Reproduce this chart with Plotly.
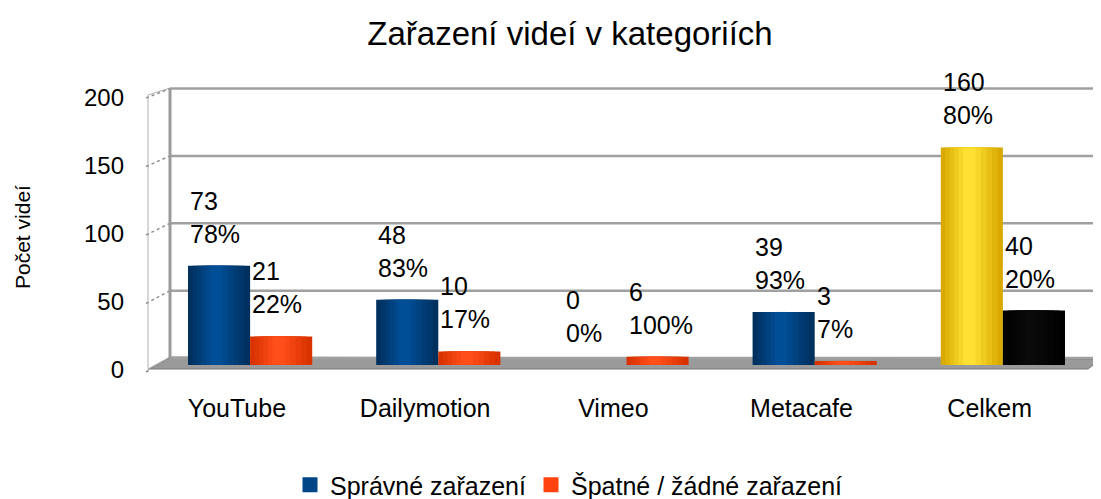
import plotly.graph_objects as go

categories = ["YouTube", "Dailymotion", "Vimeo", "Metacafe", "Celkem"]
correct = [73, 48, 0, 39, 160]
correct_pct = [78, 83, 0, 93, 80]
wrong = [21, 10, 6, 3, 40]
wrong_pct = [22, 17, 100, 7, 20]
y_ticks = [0, 50, 100, 150, 200]

series_names = ["Správné zařazení", "Špatné / žádné zařazení"]
BLUE, ORANGE, YELLOW, BLACK = "#004586", "#ff420e", "#ffd320", "#000000"
# (edge shade, centre shade) for cylinder look
SH = {BLUE: ("#00305e", "#004e96"), ORANGE: ("#d83200", "#ff4e1a"),
      YELLOW: ("#d8aa00", "#ffe033"), BLACK: ("#000000", "#0a0a0a")}
FONT = "Liberation Sans, Arial, sans-serif"

OFF = 8  # page body margin
W, H = 1101 - OFF, 499 - OFF
PL, PR, PT, PB = 156, 1097, 93, 365  # plot area in screenshot pixels


def px_x(p):
    return (p - PL) / (PR - PL)


def px_y(p):
    return (PB - p) / (PB - PT)


def mix(c1, c2, t):
    a = [int(c1[i:i + 2], 16) for i in (1, 3, 5)]
    b = [int(c2[i:i + 2], 16) for i in (1, 3, 5)]
    return "#" + "".join(f"{round(a[k] + (b[k] - a[k]) * t):02x}" for k in range(3))


xs = list(range(len(categories)))
BW = 0.33
N_LAYERS = 6

fig = go.Figure()
colors1 = [BLUE] * 4 + [YELLOW]
colors2 = [ORANGE] * 4 + [BLACK]

for vals, cols, left, name in [(correct, colors1, -BW, series_names[0]),
                               (wrong, colors2, 0.0, series_names[1])]:
    for k in range(N_LAYERS):
        t = k / (N_LAYERS - 1)
        frac = 1 - 0.8 * t  # layer width fraction
        centre = 0.45
        lo = centre - frac * centre
        fig.add_trace(go.Bar(x=xs, y=vals, name=name, width=BW * frac, offset=left + BW * lo,
                             marker=dict(color=[mix(SH[c][0], SH[c][1], t) for c in cols],
                                         line=dict(width=0)),
                             showlegend=False, hoverinfo="skip" if k else None))

# legend entries (square swatches)
fig.add_trace(go.Scatter(x=[None], y=[None], mode="markers", name=series_names[0],
                         marker=dict(color=BLUE, symbol="square", size=15)))
fig.add_trace(go.Scatter(x=[None], y=[None], mode="markers", name=series_names[1],
                         marker=dict(color=ORANGE, symbol="square", size=15)))

annotations = []
for i in xs:
    annotations.append(dict(x=i - BW, y=correct[i], xref="x", yref="y",
                            text=f"{correct[i]}<br>{correct_pct[i]}%", showarrow=False,
                            xanchor="left", yanchor="bottom", yshift=16, align="left",
                            font=dict(size=25, color="black", family=FONT)))
    annotations.append(dict(x=i, y=wrong[i], xref="x", yref="y",
                            text=f"{wrong[i]}<br>{wrong_pct[i]}%", showarrow=False,
                            xanchor="left", yanchor="bottom", yshift=16, align="left",
                            font=dict(size=25, color="black", family=FONT)))
annotations.append(dict(x=px_x(22), y=px_y(237), xref="paper", yref="paper", text="Počet videí",
                        textangle=-90, showarrow=False, xanchor="center", yanchor="middle",
                        font=dict(size=21, color="black", family=FONT)))

shapes = []
# floor
shapes.append(dict(type="path", xref="paper", yref="paper", layer="below",
                   path=f"M {px_x(148)},{px_y(369)} L {px_x(1088)},{px_y(369)} L {px_x(1101)},{px_y(359)} L {px_x(170)},{px_y(357)} Z",
                   fillcolor="#9a9a9a", line=dict(color="#777777", width=1)))
# left side wall
shapes.append(dict(type="path", xref="paper", yref="paper", layer="below",
                   path=f"M {px_x(148)},{px_y(95)} L {px_x(170)},{px_y(88)} L {px_x(170)},{px_y(357)} L {px_x(148)},{px_y(369)} Z",
                   fillcolor="white", line=dict(color="#b0b0b0", width=1)))
# back wall grid lines
for v in y_ticks:
    yb = 358 - 1.347 * v
    yf = 369 - 1.37 * v
    shapes.append(dict(type="line", xref="paper", yref="paper", layer="below",
                       x0=px_x(170), x1=px_x(1101), y0=px_y(yb), y1=px_y(yb),
                       line=dict(color="#a0a0a0", width=2.5)))
    shapes.append(dict(type="line", xref="paper", yref="paper", layer="below",
                       x0=px_x(146), x1=px_x(170), y0=px_y(yf + 3), y1=px_y(yb),
                       line=dict(color="#909090", width=1.5, dash="dot")))
# back corner
shapes.append(dict(type="line", xref="paper", yref="paper", layer="below",
                   x0=px_x(170), x1=px_x(170), y0=px_y(88), y1=px_y(358),
                   line=dict(color="#9a9a9a", width=3)))

fig.update_layout(
    width=W, height=H,
    margin=dict(l=PL - OFF, r=(1101 - PR), t=PT - OFF, b=(499 - PB), autoexpand=False),
    paper_bgcolor="white", plot_bgcolor="rgba(0,0,0,0)",
    barmode="overlay",
    font=dict(family=FONT, size=24, color="black"),
    title=dict(text="Zařazení videí v kategoriích", xref="container", yref="container",
               x=(570 - OFF) / W, y=1 - (33 - OFF) / H, xanchor="center", yanchor="middle",
               font=dict(size=33, color="black", family=FONT)),
    xaxis=dict(range=[-0.5, 4.5], tickvals=[i - 0.07 for i in xs], ticktext=categories,
               showgrid=False, zeroline=False, showline=False, ticks="", automargin=False,
               ticklabelstandoff=26, tickfont=dict(size=25)),
    yaxis=dict(range=[0, 200], tickvals=y_ticks, showgrid=False, zeroline=False,
               showline=False, ticks="", ticklabelshift=5, ticklabelstandoff=31, automargin=False,
               tickfont=dict(size=24)),
    legend=dict(orientation="h", x=px_x(569), xanchor="center", y=px_y(485), yanchor="middle",
                font=dict(size=25), itemwidth=30, traceorder="normal"),
    annotations=annotations,
    shapes=shapes,
)

fig.write_html("out.html")
